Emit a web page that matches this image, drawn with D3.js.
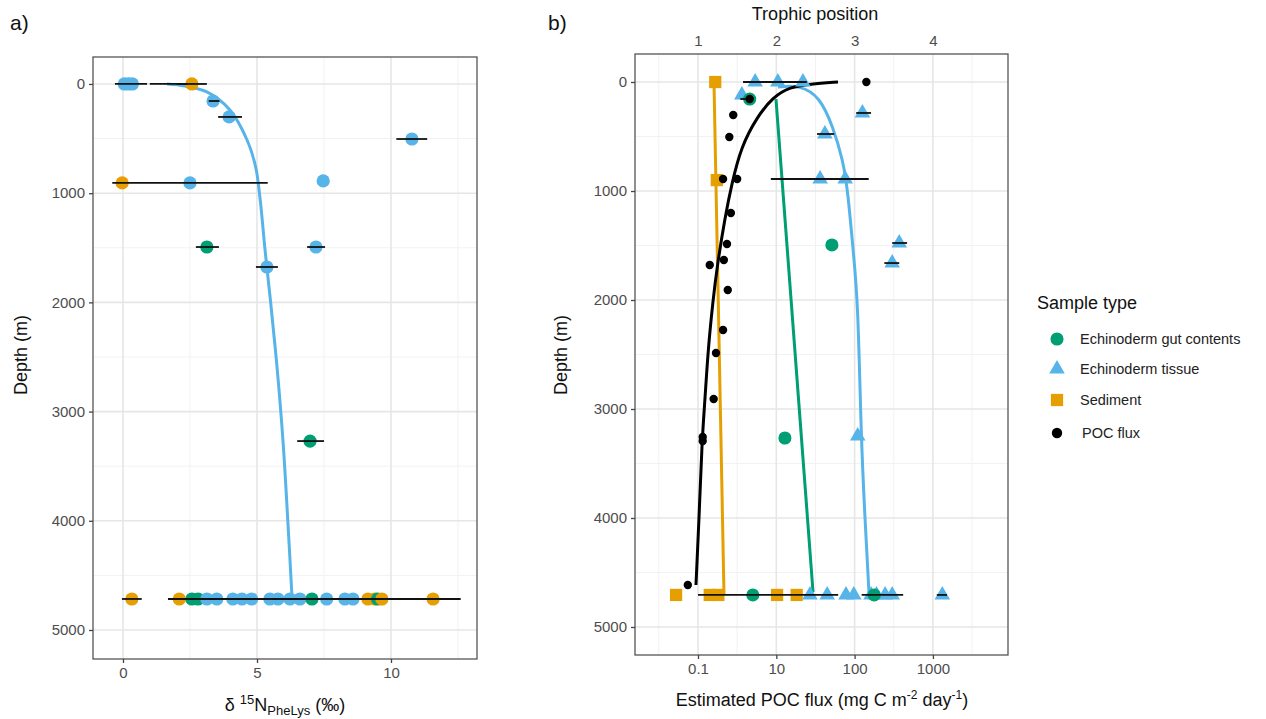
<!DOCTYPE html>
<html>
<head>
<meta charset="utf-8">
<script src="https://cdn.jsdelivr.net/npm/d3@7"></script>
<style>
  html, body { margin: 0; padding: 0; background: #fff; }
  svg { display: block; font-family: "Liberation Sans", Arial, sans-serif; }
</style>
</head>
<body>
<svg id="fig" width="1266" height="719"></svg>
<script>
// ---------- sample types ----------
const types = ["Echinoderm gut contents", "Echinoderm tissue", "Sediment", "POC flux"];
const typeColors = ["#009E73", "#56B4E9", "#E69F00", "#000000"];

// ---------- panel a: δ15N PheLys vs depth ----------
const aType  = ["T","T","T","S", "T","T","T", "S","T","T", "G","T","T", "G",
                "S","S","G","G","T","T","T","T","T","T","T","T","T","G","T","T","T","S","S","G","S","S"];
const aN     = [0.05,0.2,0.35,2.57, 3.36,3.96,10.78, -0.03,2.5,7.47, 3.13,7.2,5.37, 6.98,
                0.33,2.1,2.57,2.8,3.13,3.5,4.1,4.44,4.8,5.48,5.78,6.23,6.6,7.05,7.6,8.28,8.58,9.14,9.4,9.5,9.66,11.57];
const aDepth = [0,0,0,0, 156,302,504, 906,906,888, 1493,1493,1676, 3270,
                4716,4716,4716,4716,4716,4716,4716,4716,4716,4716,4716,4716,4716,4716,4716,4716,4716,4716,4716,4716,4716,4716];
// error bars (low, high, depth)
const aErrLo    = [-0.3, 1.0, 2.0, 3.2, 3.55, 10.2, -0.4, 2.72, 6.87, 4.96, 6.5, -0.04, 1.68];
const aErrHi    = [0.9, 2.4, 3.13, 3.6, 4.44, 11.35, 5.4, 3.58, 7.54, 5.78, 7.5, 0.7, 12.6];
const aErrDepth = [0, 0, 0, 156, 302, 504, 906, 1493, 1493, 1676, 3270, 4716, 4716];
// fitted tissue curve
const aFitN     = [1.64, 2.31, 3.13, 3.99, 4.63, 4.95, 5.12, 5.3, 5.5, 5.75, 5.97, 6.15, 6.31];
const aFitDepth = [0, 18, 73, 238, 513, 760, 1062, 1520, 1978, 2600, 3269, 4000, 4716];

const aXTicks = [0, 5, 10];
const depthTicks = [0, 1000, 2000, 3000, 4000, 5000];

// ---------- panel b: trophic position / POC flux vs depth ----------
const bType  = ["S","S", "T","T","T","T", "G", "T","T", "T","T", "G","T","T", "G","T",
                "S","S","S","G","S","S","T","T","T","T","T","T","T","T","T","G"];
const bTP    = [1.22,1.24, 1.73,2.02,2.34,1.56, 1.66, 3.1,2.62, 2.56,2.88, 2.71,3.57,3.48, 2.11,3.04,
                0.72,1.15,1.26,1.70,2.01,2.26,2.43,2.65,2.89,2.99,3.21,3.28,3.39,3.48,4.12,3.25];
const bDepth = [0,900, 0,0,0,119, 156, 284,477, 890,890, 1495,1477,1661, 3266,3248,
                4706,4706,4706,4706,4706,4706,4706,4706,4706,4706,4706,4706,4706,4706,4706,4706];
const bErrLo    = [1.575, 1.54, 3.02, 2.52, 1.93, 3.48, 3.38, 1.0, 3.09, 4.05];
const bErrHi    = [2.39, 1.70, 3.21, 2.74, 3.18, 3.67, 3.57, 2.79, 3.62, 4.18];
const bErrDepth = [0, 156, 284, 477, 890, 1477, 1661, 4706, 4706, 4706];
// POC flux estimates
const pocTP    = [3.15, 1.66, 1.45, 1.40, 1.32, 1.50, 1.42, 1.37, 1.33, 1.15, 1.38, 1.32, 1.23, 1.20, 1.06, 1.06, 0.87];
const pocDepth = [0, 156, 303, 505, 890, 890, 1202, 1486, 1633, 1679, 1908, 2275, 2486, 2908, 3257, 3294, 4615];
// fitted lines
const pocFitTP    = [0.974, 1.013, 1.051, 1.089, 1.128, 1.192, 1.243, 1.345, 1.434, 1.55, 1.754, 1.958, 2.175, 2.43, 2.788];
const pocFitDepth = [4615, 4018, 3284, 2917, 2459, 2000, 1697, 1239, 927, 596, 321, 138, 46, 18, 0];
const tisFitTP    = [2.022, 2.303, 2.558, 2.724, 2.852, 2.916, 2.98, 3.043, 3.082, 3.133, 3.184];
const tisFitDepth = [46, 28, 138, 413, 716, 1018, 1541, 2000, 3248, 4018, 4688];
const sedFitTP    = [1.204, 1.332];
const sedFitDepth = [0, 4706];
const gutFitTP    = [1.996, 2.469];
const gutFitDepth = [156, 4679];

const tpTicks = [1, 2, 3, 4];
const fluxLabels = ["0.1", "10", "100", "1000"];

// ---------- drawing ----------
const svg = d3.select("#fig");
const colorOf = t => ({G: typeColors[0], T: typeColors[1], S: typeColors[2], P: typeColors[3]})[t];
const gridMajor = "#e6e6e6", gridMinor = "#f2f2f2", tickCol = "#4d4d4d";

function box(x, y) {
  const xr = x.range(), yr = y.range();
  return {x0: Math.min(...xr), x1: Math.max(...xr), y0: Math.min(...yr), y1: Math.max(...yr)};
}
function frame(g, x, y, xMinor, yMinor, xMajor, yMajor) {
  const b = box(x, y);
  g.selectAll(null).data(xMinor).join("line")
    .attr("x1", d => x(d)).attr("x2", d => x(d)).attr("y1", b.y0).attr("y2", b.y1)
    .attr("stroke", gridMinor).attr("stroke-width", 1);
  g.selectAll(null).data(yMinor).join("line")
    .attr("y1", d => y(d)).attr("y2", d => y(d)).attr("x1", b.x0).attr("x2", b.x1)
    .attr("stroke", gridMinor).attr("stroke-width", 1);
  g.selectAll(null).data(xMajor).join("line")
    .attr("x1", d => x(d)).attr("x2", d => x(d)).attr("y1", b.y0).attr("y2", b.y1)
    .attr("stroke", gridMajor).attr("stroke-width", 1.6);
  g.selectAll(null).data(yMajor).join("line")
    .attr("y1", d => y(d)).attr("y2", d => y(d)).attr("x1", b.x0).attr("x2", b.x1)
    .attr("stroke", gridMajor).attr("stroke-width", 1.6);
}
function border(g, x, y) {
  const b = box(x, y);
  g.append("rect").attr("x", b.x0).attr("y", b.y0).attr("width", b.x1 - b.x0).attr("height", b.y1 - b.y0)
    .attr("fill", "none").attr("stroke", "#555").attr("stroke-width", 1.3);
}
function styleAxis(ax) {
  ax.select(".domain").remove();
  ax.selectAll(".tick line").attr("stroke", "#444").attr("stroke-width", 1.3);
  ax.selectAll(".tick text").attr("fill", tickCol).attr("font-size", 15)
    .attr("font-family", "'Liberation Sans', Arial, sans-serif");
}
function range(a, b, s) { const r = []; for (let v = a; v <= b + 1e-9; v += s) r.push(v); return r; }

// ===== panel a =====
const xA = d3.scaleLinear().domain([-1.119, 13.209]).range([93, 477]);
const yA = d3.scaleLinear().domain([-247, 5265.6]).range([57, 659]);
const gA = svg.append("g");
frame(gA, xA, yA, [2.5, 7.5, 12.5], range(500, 4500, 1000), aXTicks, depthTicks);

gA.append("path")
  .datum(aFitN.map((v, i) => [v, aFitDepth[i]]))
  .attr("d", d3.line().x(d => xA(d[0])).y(d => yA(d[1])).curve(d3.curveCatmullRom))
  .attr("fill", "none").attr("stroke", typeColors[1]).attr("stroke-width", 3);

gA.selectAll(null).data(aN.map((v, i) => ({x: v, d: aDepth[i], t: aType[i]}))).join("circle")
  .attr("cx", d => xA(d.x)).attr("cy", d => yA(d.d)).attr("r", 6.6)
  .attr("fill", d => colorOf(d.t));

gA.selectAll(null).data(aErrLo.map((v, i) => ({lo: v, hi: aErrHi[i], d: aErrDepth[i]}))).join("line")
  .attr("x1", d => xA(d.lo)).attr("x2", d => xA(d.hi)).attr("y1", d => yA(d.d)).attr("y2", d => yA(d.d))
  .attr("stroke", "#111").attr("stroke-width", 1.8);
border(gA, xA, yA);

const axA1 = gA.append("g").attr("transform", "translate(0,659)")
  .call(d3.axisBottom(xA).tickValues(aXTicks).tickSize(4).tickPadding(4));
styleAxis(axA1);
const axA2 = gA.append("g").attr("transform", "translate(93,0)")
  .call(d3.axisLeft(yA).tickValues(depthTicks).tickSize(4).tickPadding(4).tickFormat(d3.format("d")));
styleAxis(axA2);

// axis titles panel a
const tA = svg.append("text").attr("x", 285).attr("y", 711).attr("text-anchor", "middle")
  .attr("font-size", 18).attr("fill", "#111");
tA.append("tspan").text("\u03B4 ");
tA.append("tspan").attr("font-size", 13).attr("dy", -7).text("15");
tA.append("tspan").attr("dy", 7).text("N");
tA.append("tspan").attr("font-size", 13).attr("dy", 4).text("PheLys");
tA.append("tspan").attr("dy", -4).text(" (\u2030)");

svg.append("text").attr("transform", "translate(27,355) rotate(-90)").attr("text-anchor", "middle")
  .attr("font-size", 18).attr("fill", "#111").text("Depth (m)");
svg.append("text").attr("x", 10).attr("y", 30).attr("font-size", 21).attr("fill", "#111").text("a)");

// ===== panel b =====
const xB = d3.scaleLinear().domain([0.1954, 4.959]).range([635, 1008]);
const yB = d3.scaleLinear().domain([-257, 5257]).range([54, 655]);
const gB = svg.append("g");
frame(gB, xB, yB, range(0.5, 4.5, 1), range(500, 4500, 1000), tpTicks, depthTicks);

const straight = d3.line().x(d => xB(d[0])).y(d => yB(d[1]));
const smooth = d3.line().x(d => xB(d[0])).y(d => yB(d[1])).curve(d3.curveBasis);
[[sedFitTP, sedFitDepth, typeColors[2]], [gutFitTP, gutFitDepth, typeColors[0]]].forEach(([xs, ds, c]) => {
  gB.append("path").datum(xs.map((v, i) => [v, ds[i]])).attr("d", straight)
    .attr("fill", "none").attr("stroke", c).attr("stroke-width", 3);
});
gB.append("path").datum(tisFitTP.map((v, i) => [v, tisFitDepth[i]])).attr("d", smooth)
  .attr("fill", "none").attr("stroke", typeColors[1]).attr("stroke-width", 3);
gB.append("path").datum(pocFitTP.map((v, i) => [v, pocFitDepth[i]])).attr("d", smooth)
  .attr("fill", "none").attr("stroke", "#000").attr("stroke-width", 3);

const symOf = t => t === "G" ? d3.symbolCircle : t === "T" ? d3.symbolTriangle : d3.symbolSquare;
const sizeOf = t => t === "G" ? 135 : t === "T" ? 105 : 150;
gB.selectAll(null).data(bTP.map((v, i) => ({x: v, d: bDepth[i], t: bType[i]}))).join("path")
  .attr("transform", d => `translate(${xB(d.x)},${yB(d.d)})`)
  .attr("d", d => d3.symbol().type(symOf(d.t)).size(sizeOf(d.t))())
  .attr("fill", d => colorOf(d.t));

gB.selectAll(null).data(bErrLo.map((v, i) => ({lo: v, hi: bErrHi[i], d: bErrDepth[i]}))).join("line")
  .attr("x1", d => xB(d.lo)).attr("x2", d => xB(d.hi)).attr("y1", d => yB(d.d)).attr("y2", d => yB(d.d))
  .attr("stroke", "#111").attr("stroke-width", 1.8);

gB.selectAll(null).data(pocTP.map((v, i) => ({x: v, d: pocDepth[i]}))).join("circle")
  .attr("cx", d => xB(d.x)).attr("cy", d => yB(d.d)).attr("r", 4.2).attr("fill", "#000");
border(gB, xB, yB);

const axB1 = gB.append("g").attr("transform", "translate(0,655)")
  .call(d3.axisBottom(xB).tickValues(tpTicks).tickSize(4).tickPadding(4)
    .tickFormat((d, i) => fluxLabels[i]));
styleAxis(axB1);
const axB2 = gB.append("g").attr("transform", "translate(635,0)")
  .call(d3.axisLeft(yB).tickValues(depthTicks).tickSize(4).tickPadding(4).tickFormat(d3.format("d")));
styleAxis(axB2);
const axB3 = gB.append("g").attr("transform", "translate(0,54)")
  .call(d3.axisTop(xB).tickValues(tpTicks).tickSize(0).tickPadding(8).tickFormat(d3.format("d")));
styleAxis(axB3);

svg.append("text").attr("x", 815).attr("y", 20).attr("text-anchor", "middle")
  .attr("font-size", 18).attr("fill", "#111").text("Trophic position");
const tB = svg.append("text").attr("x", 822).attr("y", 706).attr("text-anchor", "middle")
  .attr("font-size", 18).attr("fill", "#111");
tB.append("tspan").text("Estimated POC flux (mg C m");
tB.append("tspan").attr("font-size", 12).attr("dy", -7).text("-2");
tB.append("tspan").attr("dy", 7).text(" day");
tB.append("tspan").attr("font-size", 12).attr("dy", -7).text("-1");
tB.append("tspan").attr("dy", 7).text(")");
svg.append("text").attr("transform", "translate(567,355) rotate(-90)").attr("text-anchor", "middle")
  .attr("font-size", 18).attr("fill", "#111").text("Depth (m)");
svg.append("text").attr("x", 548).attr("y", 30).attr("font-size", 21).attr("fill", "#111").text("b)");

// ===== legend =====
const lg = svg.append("g");
lg.append("text").attr("x", 1037).attr("y", 309).attr("font-size", 18).attr("fill", "#111").text("Sample type");
const legSym = [d3.symbolCircle, d3.symbolTriangle, d3.symbolSquare, d3.symbolCircle];
const legSize = [135, 105, 150, 85];
const legY = [339, 369, 400, 433];
types.forEach((t, i) => {
  lg.append("path").attr("transform", `translate(1057,${legY[i]})`)
    .attr("d", d3.symbol().type(legSym[i]).size(legSize[i])()).attr("fill", typeColors[i]);
  lg.append("text").attr("x", i === 3 ? 1082 : 1080).attr("y", legY[i] + 5).attr("font-size", 14.5)
    .attr("fill", "#222").text(t);
});
</script>
</body>
</html>
